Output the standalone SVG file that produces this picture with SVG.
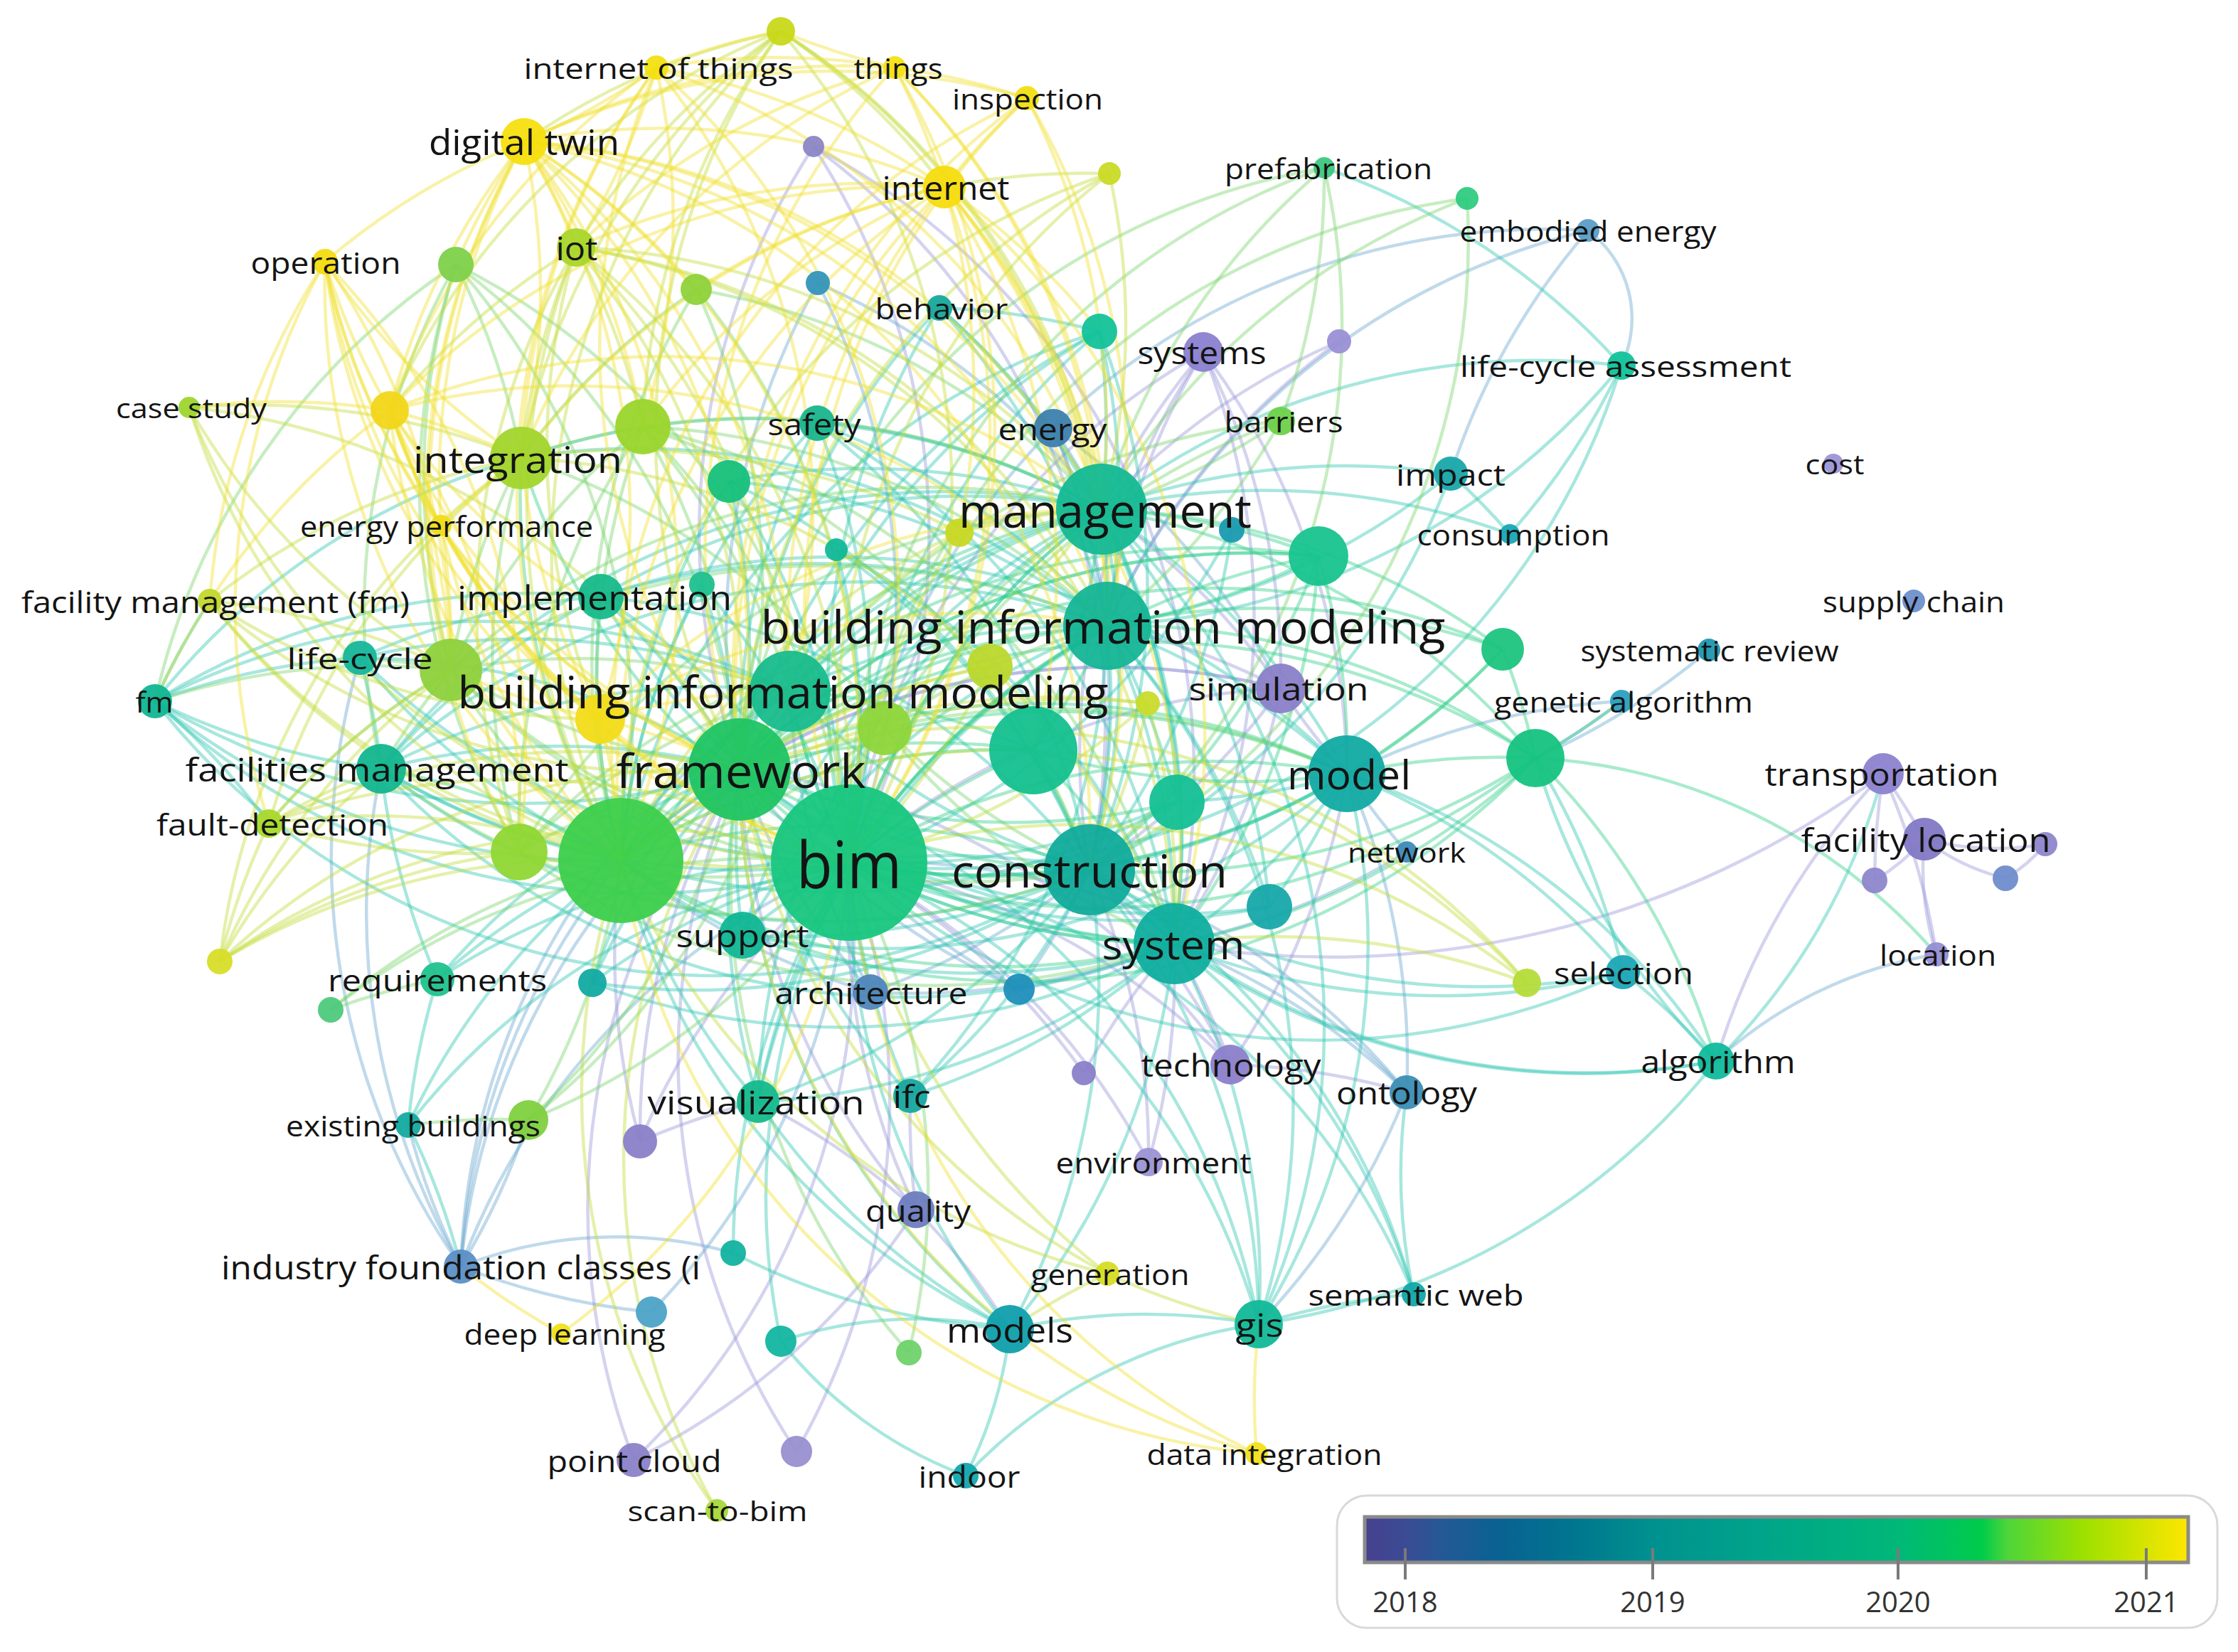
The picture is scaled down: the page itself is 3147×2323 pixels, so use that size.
<svg xmlns="http://www.w3.org/2000/svg" width="3147" height="2323" viewBox="0 0 3147 2323">
<style>
.e path{fill:none;stroke-width:4.5;stroke-opacity:.42}
.ey{stroke:#f0e02e}
.eyg{stroke:#c0dc36}
.eg{stroke:#76d56a}
.egt{stroke:#2fd089}
.et{stroke:#2dc6b0}
.eb{stroke:#6aa8cf}
.ep{stroke:#9896da}
.n circle{fill-opacity:.95}
.n text{font-family:"Open Sans","Noto Sans",sans-serif;fill:#141414;text-anchor:middle;dominant-baseline:central}
.lg{font-family:"Open Sans","Noto Sans",sans-serif;fill:#333;font-size:40px;text-anchor:middle}
</style>
<defs>
<linearGradient id="grad" x1="0" y1="0" x2="1" y2="0">
<stop offset="0" stop-color="#47408f"/>
<stop offset="0.05" stop-color="#3b4b93"/>
<stop offset="0.09" stop-color="#265896"/>
<stop offset="0.16" stop-color="#0a6192"/>
<stop offset="0.25" stop-color="#00758f"/>
<stop offset="0.35" stop-color="#00918f"/>
<stop offset="0.48" stop-color="#00a48a"/>
<stop offset="0.65" stop-color="#00b878"/>
<stop offset="0.75" stop-color="#00cc4a"/>
<stop offset="0.78" stop-color="#4dd53a"/>
<stop offset="0.87" stop-color="#9be000"/>
<stop offset="0.93" stop-color="#c9e300"/>
<stop offset="1" stop-color="#fee600"/>
</linearGradient>
</defs>
<rect width="3147" height="2323" fill="#fff"/>
<g id="connectors" class="e">
<g class="ep">
<path d="M1144 206A1000 1000 0 0 1 1194 1213"/>
<path d="M1144 206A1000 1000 0 0 0 1040 1082"/>
<path d="M1144 206A1000 1000 0 0 1 1532 1223"/>
<path d="M1144 206A1000 1000 0 0 1 1651 1327"/>
<path d="M1692 495A1000 1000 0 0 0 1549 716"/>
<path d="M1692 495A1000 1000 0 0 0 1557 880"/>
<path d="M1692 495A1000 1000 0 0 0 1194 1213"/>
<path d="M1692 495A1000 1000 0 0 0 1532 1223"/>
<path d="M1692 495A1000 1000 0 0 1 1651 1327"/>
<path d="M1692 495A1000 1000 0 0 1 1894 1088"/>
<path d="M1692 495A1000 1000 0 0 1 1801 968"/>
<path d="M1883 480A1000 1000 0 0 0 1549 716"/>
<path d="M1883 480A1000 1000 0 0 0 1557 880"/>
<path d="M1801 968A1000 1000 0 0 0 1194 1213"/>
<path d="M1801 968A1000 1000 0 0 0 1040 1082"/>
<path d="M1801 968A1000 1000 0 0 0 873 1210"/>
<path d="M1801 968A1000 1000 0 0 0 1549 716"/>
<path d="M1801 968A1000 1000 0 0 0 1557 880"/>
<path d="M1801 968A1000 1000 0 0 1 1532 1223"/>
<path d="M1801 968A1000 1000 0 0 1 1651 1327"/>
<path d="M1801 968A1000 1000 0 0 0 1894 1088"/>
<path d="M2648 1088A1000 1000 0 0 1 2706 1180"/>
<path d="M2648 1088A1000 1000 0 0 0 2636 1238"/>
<path d="M2648 1088A1000 1000 0 0 1 2723 1342"/>
<path d="M2648 1088A1000 1000 0 0 0 2413 1492"/>
<path d="M2648 1088A1300 1300 0 0 1 1651 1327"/>
<path d="M2706 1180A400 400 0 0 0 2876 1187"/>
<path d="M2706 1180A300 300 0 0 1 2636 1238"/>
<path d="M2706 1180A400 400 0 0 0 2723 1342"/>
<path d="M2706 1180A300 300 0 0 0 2820 1235"/>
<path d="M2876 1187A200 200 0 0 1 2820 1235"/>
<path d="M1730 1497A1000 1000 0 0 0 1651 1327"/>
<path d="M1730 1497A1000 1000 0 0 0 1532 1223"/>
<path d="M1730 1497A1000 1000 0 0 0 1194 1213"/>
<path d="M1730 1497A1000 1000 0 0 0 1894 1088"/>
<path d="M1730 1497A1000 1000 0 0 1 1978 1536"/>
<path d="M1730 1497A1000 1000 0 0 0 1040 1082"/>
<path d="M1524 1509A1000 1000 0 0 0 1194 1213"/>
<path d="M1524 1509A1000 1000 0 0 1 1651 1327"/>
<path d="M900 1605A1000 1000 0 0 1 873 1210"/>
<path d="M900 1605A1000 1000 0 0 1 1194 1213"/>
<path d="M900 1605A1000 1000 0 0 1 1040 1082"/>
<path d="M900 1605A1000 1000 0 0 1 1066 1549"/>
<path d="M1615 1634A1000 1000 0 0 0 1651 1327"/>
<path d="M1615 1634A1000 1000 0 0 0 1532 1223"/>
<path d="M1615 1634A1000 1000 0 0 0 1194 1213"/>
<path d="M1288 1701A1000 1000 0 0 0 1066 1549"/>
<path d="M1288 1701A1000 1000 0 0 1 1194 1213"/>
<path d="M1288 1701A1000 1000 0 0 1 1040 1082"/>
<path d="M1288 1701A1000 1000 0 0 1 1280 1541"/>
<path d="M1288 1701A1000 1000 0 0 1 1420 1869"/>
<path d="M1120 2041A1000 1000 0 0 0 1194 1213"/>
<path d="M1120 2041A1000 1000 0 0 1 1040 1082"/>
<path d="M891 2053A1000 1000 0 0 0 1194 1213"/>
<path d="M891 2053A1000 1000 0 0 1 1040 1082"/>
<path d="M891 2053A1000 1000 0 0 0 1288 1701"/>
</g>
<g class="eb">
<path d="M2233 324A155 155 0 0 1 2280 514"/>
<path d="M2233 324A1000 1000 0 0 0 2040 666"/>
<path d="M2233 324A1000 1000 0 0 0 1481 602"/>
<path d="M2233 324A1000 1000 0 0 0 1557 880"/>
<path d="M1150 398A1000 1000 0 0 1 1194 1213"/>
<path d="M1150 398A1000 1000 0 0 0 1040 1082"/>
<path d="M1150 398A1000 1000 0 0 1 1549 716"/>
<path d="M1481 602A1000 1000 0 0 1 1549 716"/>
<path d="M1481 602A1000 1000 0 0 1 1557 880"/>
<path d="M1481 602A1000 1000 0 0 0 1194 1213"/>
<path d="M1481 602A1000 1000 0 0 1 1801 968"/>
<path d="M1481 602A1000 1000 0 0 1 1532 1223"/>
<path d="M2280 986A1000 1000 0 0 1 2159 1066"/>
<path d="M2280 986A1000 1000 0 0 0 1894 1088"/>
<path d="M2403 914A1000 1000 0 0 1 2159 1066"/>
<path d="M1978 1198A1000 1000 0 0 1 1894 1088"/>
<path d="M1978 1198A1000 1000 0 0 1 1651 1327"/>
<path d="M1224 1395A1000 1000 0 0 1 1194 1213"/>
<path d="M1224 1395A1000 1000 0 0 1 1040 1082"/>
<path d="M1224 1395A1000 1000 0 0 1 873 1210"/>
<path d="M1224 1395A1000 1000 0 0 0 1532 1223"/>
<path d="M1224 1395A1000 1000 0 0 0 1651 1327"/>
<path d="M1224 1395A1000 1000 0 0 1 1111 972"/>
<path d="M1433 1391A1000 1000 0 0 1 1194 1213"/>
<path d="M1433 1391A1000 1000 0 0 0 1532 1223"/>
<path d="M1433 1391A1000 1000 0 0 0 1651 1327"/>
<path d="M1433 1391A1000 1000 0 0 1 1040 1082"/>
<path d="M1978 1536A1000 1000 0 0 0 1651 1327"/>
<path d="M1978 1536A1000 1000 0 0 0 1532 1223"/>
<path d="M1978 1536A1000 1000 0 0 0 1194 1213"/>
<path d="M1978 1536A1000 1000 0 0 0 1894 1088"/>
<path d="M1978 1536A1000 1000 0 0 1 1770 1862"/>
<path d="M648 1781A1000 1000 0 0 0 743 1575"/>
<path d="M648 1781A1000 1000 0 0 1 574 1582"/>
<path d="M648 1781A600 600 0 0 1 1031 1762"/>
<path d="M648 1781A1000 1000 0 0 0 916 1845"/>
<path d="M648 1781A1000 1000 0 0 1 873 1210"/>
<path d="M648 1781A1000 1000 0 0 1 1040 1082"/>
<path d="M648 1781A1000 1000 0 0 1 1111 972"/>
<path d="M648 1781A1000 1000 0 0 1 1194 1213"/>
<path d="M648 1781A1000 1000 0 0 1 536 1081"/>
<path d="M648 1781A1000 1000 0 0 1 506 925"/>
<path d="M916 1845A1000 1000 0 0 0 1194 1213"/>
<path d="M2723 1342A600 600 0 0 0 2413 1492"/>
</g>
<g class="et">
<path d="M1546 466A1000 1000 0 0 0 1194 1213"/>
<path d="M1546 466A1000 1000 0 0 0 1040 1082"/>
<path d="M1546 466A1000 1000 0 0 0 873 1210"/>
<path d="M1546 466A1000 1000 0 0 1 1549 716"/>
<path d="M1546 466A1000 1000 0 0 1 1557 880"/>
<path d="M1546 466A1000 1000 0 0 1 1532 1223"/>
<path d="M1546 466A1000 1000 0 0 0 1111 972"/>
<path d="M1149 595A1000 1000 0 0 1 1194 1213"/>
<path d="M1149 595A1000 1000 0 0 0 1040 1082"/>
<path d="M1149 595A1000 1000 0 0 0 873 1210"/>
<path d="M1149 595A1000 1000 0 0 1 1549 716"/>
<path d="M1149 595A1000 1000 0 0 1 1557 880"/>
<path d="M1149 595A1000 1000 0 0 1 1532 1223"/>
<path d="M1149 595A1000 1000 0 0 1 1651 1327"/>
<path d="M1321 433A1000 1000 0 0 0 1194 1213"/>
<path d="M1321 433A1000 1000 0 0 0 1040 1082"/>
<path d="M1321 433A1000 1000 0 0 1 1549 716"/>
<path d="M1321 433A1000 1000 0 0 1 1557 880"/>
<path d="M1321 433A1000 1000 0 0 1 1651 1327"/>
<path d="M1321 433A1000 1000 0 0 1 1546 466"/>
<path d="M1025 677A1000 1000 0 0 1 1194 1213"/>
<path d="M1025 677A1000 1000 0 0 1 1040 1082"/>
<path d="M1025 677A1000 1000 0 0 0 873 1210"/>
<path d="M1025 677A1000 1000 0 0 1 1549 716"/>
<path d="M1025 677A1000 1000 0 0 1 1557 880"/>
<path d="M1025 677A1000 1000 0 0 1 1532 1223"/>
<path d="M1176 773A1000 1000 0 0 1 1194 1213"/>
<path d="M1176 773A1000 1000 0 0 1 1532 1223"/>
<path d="M1176 773A1000 1000 0 0 1 1651 1327"/>
<path d="M987 822A1000 1000 0 0 1 1194 1213"/>
<path d="M987 822A1000 1000 0 0 1 1040 1082"/>
<path d="M987 822A1000 1000 0 0 0 873 1210"/>
<path d="M845 839A1000 1000 0 0 1 1194 1213"/>
<path d="M845 839A1000 1000 0 0 1 1040 1082"/>
<path d="M845 839A1000 1000 0 0 0 873 1210"/>
<path d="M845 839A1000 1000 0 0 1 1549 716"/>
<path d="M845 839A1000 1000 0 0 1 1557 880"/>
<path d="M845 839A1000 1000 0 0 1 1532 1223"/>
<path d="M845 839A1000 1000 0 0 0 1651 1327"/>
<path d="M845 839A1000 1000 0 0 0 218 986"/>
<path d="M845 839A1000 1000 0 0 0 506 925"/>
<path d="M845 839A1000 1000 0 0 0 536 1081"/>
<path d="M845 839A1000 1000 0 0 1 1894 1088"/>
<path d="M506 925A1000 1000 0 0 0 218 986"/>
<path d="M506 925A1000 1000 0 0 1 536 1081"/>
<path d="M506 925A1000 1000 0 0 0 873 1210"/>
<path d="M506 925A1000 1000 0 0 0 1194 1213"/>
<path d="M506 925A1000 1000 0 0 1 1040 1082"/>
<path d="M506 925A1000 1000 0 0 1 1111 972"/>
<path d="M218 986A1000 1000 0 0 0 536 1081"/>
<path d="M218 986A1000 1000 0 0 1 295 845"/>
<path d="M218 986A1000 1000 0 0 0 873 1210"/>
<path d="M218 986A1000 1000 0 0 0 1194 1213"/>
<path d="M218 986A1000 1000 0 0 0 1040 1082"/>
<path d="M218 986A1000 1000 0 0 1 1111 972"/>
<path d="M218 986A1000 1000 0 0 1 378 1158"/>
<path d="M218 986A1000 1000 0 0 0 1532 1223"/>
<path d="M218 986A1000 1000 0 0 1 733 644"/>
<path d="M536 1081A1000 1000 0 0 0 1194 1213"/>
<path d="M536 1081A1000 1000 0 0 1 1040 1082"/>
<path d="M536 1081A1000 1000 0 0 0 873 1210"/>
<path d="M536 1081A1000 1000 0 0 1 1549 716"/>
<path d="M536 1081A1000 1000 0 0 1 1557 880"/>
<path d="M536 1081A1000 1000 0 0 0 1532 1223"/>
<path d="M536 1081A1000 1000 0 0 0 1651 1327"/>
<path d="M536 1081A1000 1000 0 0 1 1111 972"/>
<path d="M615 1377A1000 1000 0 0 1 873 1210"/>
<path d="M615 1377A1000 1000 0 0 1 1194 1213"/>
<path d="M615 1377A1000 1000 0 0 1 1040 1082"/>
<path d="M615 1377A1000 1000 0 0 1 536 1081"/>
<path d="M615 1377A1000 1000 0 0 0 574 1582"/>
<path d="M833 1382A1000 1000 0 0 1 1194 1213"/>
<path d="M833 1382A1000 1000 0 0 1 1040 1082"/>
<path d="M833 1382A1000 1000 0 0 0 1532 1223"/>
<path d="M833 1382A1000 1000 0 0 0 1651 1327"/>
<path d="M833 1382A1000 1000 0 0 1 1549 716"/>
<path d="M1044 1315A1000 1000 0 0 1 1194 1213"/>
<path d="M1044 1315A1000 1000 0 0 1 1040 1082"/>
<path d="M1044 1315A1000 1000 0 0 1 873 1210"/>
<path d="M1044 1315A1000 1000 0 0 0 1532 1223"/>
<path d="M1044 1315A1000 1000 0 0 0 1651 1327"/>
<path d="M1044 1315A1000 1000 0 0 1 1549 716"/>
<path d="M1044 1315A1000 1000 0 0 1 1557 880"/>
<path d="M1044 1315A1000 1000 0 0 0 1894 1088"/>
<path d="M1066 1549A1000 1000 0 0 1 1194 1213"/>
<path d="M1066 1549A1000 1000 0 0 1 1040 1082"/>
<path d="M1066 1549A1000 1000 0 0 1 873 1210"/>
<path d="M1066 1549A1000 1000 0 0 0 1532 1223"/>
<path d="M1066 1549A1000 1000 0 0 0 1651 1327"/>
<path d="M1066 1549A1000 1000 0 0 1 1549 716"/>
<path d="M1066 1549A1000 1000 0 0 1 1557 880"/>
<path d="M1280 1541A1000 1000 0 0 1 1194 1213"/>
<path d="M1280 1541A1000 1000 0 0 1 1040 1082"/>
<path d="M1280 1541A1000 1000 0 0 0 1532 1223"/>
<path d="M1280 1541A1000 1000 0 0 0 1651 1327"/>
<path d="M1280 1541A1000 1000 0 0 0 1557 880"/>
<path d="M574 1582A1000 1000 0 0 1 648 1781"/>
<path d="M574 1582A1000 1000 0 0 1 873 1210"/>
<path d="M574 1582A1000 1000 0 0 1 1194 1213"/>
<path d="M1031 1762A1000 1000 0 0 1 1194 1213"/>
<path d="M1031 1762A1000 1000 0 0 0 1420 1869"/>
<path d="M1420 1869A1000 1000 0 0 1 1194 1213"/>
<path d="M1420 1869A1000 1000 0 0 1 1040 1082"/>
<path d="M1420 1869A1000 1000 0 0 1 873 1210"/>
<path d="M1420 1869A1000 1000 0 0 0 1532 1223"/>
<path d="M1420 1869A1000 1000 0 0 0 1651 1327"/>
<path d="M1420 1869A600 600 0 0 1 1358 2075"/>
<path d="M1420 1869A600 600 0 0 0 1098 1886"/>
<path d="M1420 1869A900 900 0 0 1 1770 1862"/>
<path d="M1420 1869A1000 1000 0 0 1 1066 1549"/>
<path d="M1098 1886A600 600 0 0 0 1358 2075"/>
<path d="M1098 1886A1000 1000 0 0 1 1194 1213"/>
<path d="M1358 2075A700 700 0 0 1 1770 1862"/>
<path d="M1770 1862A1000 1000 0 0 0 1194 1213"/>
<path d="M1770 1862A1000 1000 0 0 0 1040 1082"/>
<path d="M1770 1862A1000 1000 0 0 0 1532 1223"/>
<path d="M1770 1862A1000 1000 0 0 0 1651 1327"/>
<path d="M1770 1862A1000 1000 0 0 0 1894 1088"/>
<path d="M1770 1862A1000 1000 0 0 1 1988 1820"/>
<path d="M1770 1862A1000 1000 0 0 0 1557 880"/>
<path d="M1770 1862A1000 1000 0 0 0 1549 716"/>
<path d="M1988 1820A800 800 0 0 1 1978 1536"/>
<path d="M1988 1820A1000 1000 0 0 0 1651 1327"/>
<path d="M1988 1820A1000 1000 0 0 0 1532 1223"/>
<path d="M1988 1820A1000 1000 0 0 0 1194 1213"/>
<path d="M2413 1492A1000 1000 0 0 0 2282 1367"/>
<path d="M2413 1492A1000 1000 0 0 0 1894 1088"/>
<path d="M2413 1492A1000 1000 0 0 1 2159 1066"/>
<path d="M2413 1492A900 900 0 0 0 2648 1088"/>
<path d="M2413 1492A1000 1000 0 0 1 1651 1327"/>
<path d="M2413 1492A1000 1000 0 0 1 1532 1223"/>
<path d="M2413 1492A1000 1000 0 0 1 1770 1862"/>
<path d="M2282 1367A1000 1000 0 0 0 1894 1088"/>
<path d="M2282 1367A1000 1000 0 0 1 1651 1327"/>
<path d="M2282 1367A1000 1000 0 0 0 2159 1066"/>
<path d="M2282 1367A1000 1000 0 0 1 1532 1223"/>
<path d="M2282 1367A1000 1000 0 0 1 1194 1213"/>
<path d="M1785 1275A1000 1000 0 0 1 1194 1213"/>
<path d="M1785 1275A1000 1000 0 0 1 1040 1082"/>
<path d="M1785 1275A1000 1000 0 0 0 1549 716"/>
<path d="M1785 1275A1000 1000 0 0 0 1557 880"/>
<path d="M1785 1275A1000 1000 0 0 0 1894 1088"/>
<path d="M1655 1128A1000 1000 0 0 1 1194 1213"/>
<path d="M1655 1128A1000 1000 0 0 1 873 1210"/>
<path d="M1655 1128A1000 1000 0 0 0 1549 716"/>
<path d="M1655 1128A1000 1000 0 0 0 1557 880"/>
<path d="M1655 1128A1000 1000 0 0 0 1894 1088"/>
<path d="M2280 514A1000 1000 0 0 1 2123 751"/>
<path d="M2280 514A1000 1000 0 0 0 1549 716"/>
<path d="M2280 514A1000 1000 0 0 1 1557 880"/>
<path d="M2280 514A1000 1000 0 0 1 1194 1213"/>
<path d="M2280 514A1000 1000 0 0 0 1862 236"/>
<path d="M2040 666A1000 1000 0 0 0 1549 716"/>
<path d="M2040 666A1000 1000 0 0 1 1557 880"/>
<path d="M2040 666A1000 1000 0 0 1 1532 1223"/>
<path d="M2040 666A1000 1000 0 0 1 2123 751"/>
<path d="M2123 751A1000 1000 0 0 0 1549 716"/>
<path d="M1732 745A1000 1000 0 0 1 1194 1213"/>
<path d="M1732 745A1000 1000 0 0 1 1532 1223"/>
<path d="M1549 716A1000 1000 0 0 1 1557 880"/>
<path d="M1549 716A1000 1000 0 0 0 1194 1213"/>
<path d="M1549 716A1000 1000 0 0 1 1532 1223"/>
<path d="M1549 716A1000 1000 0 0 1 1651 1327"/>
<path d="M1549 716A1000 1000 0 0 1 1894 1088"/>
<path d="M1557 880A1000 1000 0 0 0 1194 1213"/>
<path d="M1557 880A1000 1000 0 0 1 1532 1223"/>
<path d="M1557 880A1000 1000 0 0 1 1651 1327"/>
<path d="M1557 880A1000 1000 0 0 1 1894 1088"/>
<path d="M1111 972A1000 1000 0 0 0 1194 1213"/>
<path d="M1111 972A1000 1000 0 0 1 1549 716"/>
<path d="M1111 972A1000 1000 0 0 1 1557 880"/>
<path d="M1111 972A1000 1000 0 0 0 1532 1223"/>
<path d="M1532 1223A1000 1000 0 0 0 1194 1213"/>
<path d="M1532 1223A1000 1000 0 0 1 1651 1327"/>
<path d="M1532 1223A1000 1000 0 0 0 1894 1088"/>
<path d="M1651 1327A1000 1000 0 0 1 1194 1213"/>
<path d="M1651 1327A1000 1000 0 0 0 1894 1088"/>
<path d="M1894 1088A1000 1000 0 0 1 1194 1213"/>
<path d="M733 644A1000 1000 0 0 1 1549 716"/>
<path d="M733 644A1000 1000 0 0 1 1557 880"/>
</g>
<g class="egt">
<path d="M873 1210A1000 1000 0 0 1 1549 716"/>
<path d="M873 1210A1000 1000 0 0 1 1557 880"/>
<path d="M873 1210A1000 1000 0 0 1 1532 1223"/>
<path d="M873 1210A1000 1000 0 0 0 1651 1327"/>
<path d="M873 1210A1000 1000 0 0 1 1894 1088"/>
<path d="M873 1210A1000 1000 0 0 1 1453 1055"/>
<path d="M873 1210A1000 1000 0 0 1 733 644"/>
<path d="M873 1210A1000 1000 0 0 0 536 1081"/>
<path d="M873 1210A1000 1000 0 0 1 1111 972"/>
<path d="M1040 1082A1000 1000 0 0 1 1549 716"/>
<path d="M1040 1082A1000 1000 0 0 1 1557 880"/>
<path d="M1040 1082A1000 1000 0 0 0 1532 1223"/>
<path d="M1040 1082A1000 1000 0 0 0 1651 1327"/>
<path d="M1040 1082A1000 1000 0 0 1 1894 1088"/>
<path d="M1040 1082A1000 1000 0 0 1 1453 1055"/>
<path d="M1040 1082A1000 1000 0 0 0 1655 1128"/>
<path d="M1040 1082A1000 1000 0 0 1 1854 782"/>
<path d="M1040 1082A1000 1000 0 0 0 1194 1213"/>
<path d="M1040 1082A1000 1000 0 0 0 873 1210"/>
<path d="M1194 1213A1000 1000 0 0 1 1549 716"/>
<path d="M1194 1213A1000 1000 0 0 1 1557 880"/>
<path d="M1194 1213A1000 1000 0 0 0 1532 1223"/>
<path d="M1194 1213A1000 1000 0 0 0 1651 1327"/>
<path d="M1194 1213A1000 1000 0 0 1 1894 1088"/>
<path d="M1194 1213A1000 1000 0 0 1 1453 1055"/>
<path d="M1194 1213A1000 1000 0 0 1 733 644"/>
<path d="M1194 1213A1000 1000 0 0 1 1111 972"/>
<path d="M1854 782A1000 1000 0 0 0 1194 1213"/>
<path d="M1854 782A1000 1000 0 0 0 1040 1082"/>
<path d="M1854 782A1000 1000 0 0 0 873 1210"/>
<path d="M1854 782A1000 1000 0 0 0 1549 716"/>
<path d="M1854 782A1000 1000 0 0 1 1557 880"/>
<path d="M1854 782A1000 1000 0 0 1 1532 1223"/>
<path d="M1854 782A1000 1000 0 0 1 1651 1327"/>
<path d="M1854 782A1000 1000 0 0 1 1894 1088"/>
<path d="M1453 1055A1000 1000 0 0 0 1549 716"/>
<path d="M1453 1055A1000 1000 0 0 0 1557 880"/>
<path d="M1453 1055A1000 1000 0 0 0 1111 972"/>
<path d="M1453 1055A1000 1000 0 0 1 1532 1223"/>
<path d="M1453 1055A1000 1000 0 0 1 1651 1327"/>
<path d="M1453 1055A1000 1000 0 0 0 1894 1088"/>
<path d="M2159 1066A1000 1000 0 0 0 1894 1088"/>
<path d="M2159 1066A1000 1000 0 0 1 1651 1327"/>
<path d="M2159 1066A1000 1000 0 0 1 1532 1223"/>
<path d="M2159 1066A1000 1000 0 0 1 1194 1213"/>
<path d="M2159 1066A1000 1000 0 0 0 1549 716"/>
<path d="M2159 1066A1000 1000 0 0 0 1557 880"/>
<path d="M2159 1066A1000 1000 0 0 0 2280 986"/>
<path d="M2159 1066A1000 1000 0 0 0 2113 913"/>
<path d="M2159 1066A1000 1000 0 0 0 1040 1082"/>
<path d="M2159 1066A1000 1000 0 0 1 873 1210"/>
<path d="M2159 1066A1000 1000 0 0 1 2413 1492"/>
<path d="M2159 1066A800 800 0 0 1 2723 1342"/>
<path d="M2113 913A1000 1000 0 0 1 1894 1088"/>
<path d="M2113 913A1000 1000 0 0 0 1557 880"/>
<path d="M2113 913A1000 1000 0 0 1 1194 1213"/>
<path d="M2113 913A1000 1000 0 0 0 1549 716"/>
<path d="M2113 913A1000 1000 0 0 0 1040 1082"/>
</g>
<g class="eg">
<path d="M641 372A1000 1000 0 0 1 733 644"/>
<path d="M641 372A1000 1000 0 0 1 1194 1213"/>
<path d="M641 372A1000 1000 0 0 1 1040 1082"/>
<path d="M641 372A1000 1000 0 0 1 873 1210"/>
<path d="M641 372A1000 1000 0 0 0 634 942"/>
<path d="M641 372A1000 1000 0 0 0 730 1198"/>
<path d="M641 372A1000 1000 0 0 0 536 1081"/>
<path d="M641 372A1000 1000 0 0 0 218 986"/>
<path d="M979 407A1000 1000 0 0 0 733 644"/>
<path d="M979 407A1000 1000 0 0 1 1194 1213"/>
<path d="M979 407A1000 1000 0 0 1 1040 1082"/>
<path d="M979 407A1000 1000 0 0 0 873 1210"/>
<path d="M979 407A1000 1000 0 0 1 1549 716"/>
<path d="M904 600A1000 1000 0 0 1 1194 1213"/>
<path d="M904 600A1000 1000 0 0 1 1040 1082"/>
<path d="M904 600A1000 1000 0 0 0 873 1210"/>
<path d="M904 600A1000 1000 0 0 1 1549 716"/>
<path d="M904 600A1000 1000 0 0 1 1557 880"/>
<path d="M904 600A1000 1000 0 0 1 1111 972"/>
<path d="M904 600A1000 1000 0 0 1 1532 1223"/>
<path d="M904 600A1000 1000 0 0 1 1651 1327"/>
<path d="M904 600A1000 1000 0 0 0 733 644"/>
<path d="M904 600A1000 1000 0 0 0 730 1198"/>
<path d="M904 600A1000 1000 0 0 0 634 942"/>
<path d="M634 942A1000 1000 0 0 0 1194 1213"/>
<path d="M634 942A1000 1000 0 0 0 1040 1082"/>
<path d="M634 942A1000 1000 0 0 0 873 1210"/>
<path d="M634 942A1000 1000 0 0 1 1549 716"/>
<path d="M634 942A1000 1000 0 0 1 1557 880"/>
<path d="M634 942A1000 1000 0 0 1 1111 972"/>
<path d="M634 942A1000 1000 0 0 0 1532 1223"/>
<path d="M634 942A1000 1000 0 0 0 536 1081"/>
<path d="M634 942A1000 1000 0 0 0 218 986"/>
<path d="M634 942A1000 1000 0 0 0 506 925"/>
<path d="M634 942A1000 1000 0 0 0 378 1158"/>
<path d="M634 942A1000 1000 0 0 1 733 644"/>
<path d="M730 1198A1000 1000 0 0 0 1194 1213"/>
<path d="M730 1198A1000 1000 0 0 1 1040 1082"/>
<path d="M730 1198A1000 1000 0 0 1 1111 972"/>
<path d="M730 1198A1000 1000 0 0 1 1549 716"/>
<path d="M730 1198A1000 1000 0 0 1 1557 880"/>
<path d="M730 1198A1000 1000 0 0 0 1532 1223"/>
<path d="M730 1198A1000 1000 0 0 0 1651 1327"/>
<path d="M730 1198A1000 1000 0 0 1 536 1081"/>
<path d="M730 1198A1000 1000 0 0 1 733 644"/>
<path d="M1244 1024A1000 1000 0 0 1 873 1210"/>
<path d="M1244 1024A1000 1000 0 0 1 1549 716"/>
<path d="M1244 1024A1000 1000 0 0 1 1557 880"/>
<path d="M1244 1024A1000 1000 0 0 0 1532 1223"/>
<path d="M1244 1024A1000 1000 0 0 0 1651 1327"/>
<path d="M1244 1024A1000 1000 0 0 1 1894 1088"/>
<path d="M1244 1024A1000 1000 0 0 0 733 644"/>
<path d="M743 1575A1000 1000 0 0 0 873 1210"/>
<path d="M743 1575A1000 1000 0 0 0 1194 1213"/>
<path d="M743 1575A1000 1000 0 0 0 1040 1082"/>
<path d="M743 1575A1000 1000 0 0 0 574 1582"/>
<path d="M743 1575A1000 1000 0 0 0 1111 972"/>
<path d="M465 1420A1000 1000 0 0 1 615 1377"/>
<path d="M465 1420A1000 1000 0 0 1 873 1210"/>
<path d="M465 1420A1000 1000 0 0 1 1194 1213"/>
<path d="M1278 1902A1000 1000 0 0 0 1194 1213"/>
<path d="M1278 1902A1000 1000 0 0 1 1040 1082"/>
<path d="M1801 592A1000 1000 0 0 1 1549 716"/>
<path d="M1801 592A1000 1000 0 0 0 1194 1213"/>
<path d="M1801 592A1000 1000 0 0 0 1040 1082"/>
<path d="M1801 592A1000 1000 0 0 0 1862 236"/>
<path d="M1801 592A1000 1000 0 0 1 1557 880"/>
<path d="M1862 236A1000 1000 0 0 0 1549 716"/>
<path d="M1862 236A1000 1000 0 0 0 1194 1213"/>
<path d="M1862 236A1000 1000 0 0 0 1040 1082"/>
<path d="M1862 236A1000 1000 0 0 1 1532 1223"/>
<path d="M2063 279A1000 1000 0 0 0 1549 716"/>
<path d="M2063 279A1000 1000 0 0 0 1194 1213"/>
<path d="M2063 279A1000 1000 0 0 1 1532 1223"/>
</g>
<g class="eyg">
<path d="M1098 44A1000 1000 0 0 0 737 199"/>
<path d="M1098 44A1000 1000 0 0 1 1328 263"/>
<path d="M1098 44A1000 1000 0 0 0 810 348"/>
<path d="M1098 44A1000 1000 0 0 0 733 644"/>
<path d="M1098 44A1000 1000 0 0 1 1194 1213"/>
<path d="M1098 44A1000 1000 0 0 0 1040 1082"/>
<path d="M1098 44A1000 1000 0 0 0 873 1210"/>
<path d="M1098 44A1000 1000 0 0 0 904 600"/>
<path d="M1098 44A1000 1000 0 0 1 1557 880"/>
<path d="M1098 44A1000 1000 0 0 1 1549 716"/>
<path d="M1098 44A1000 1000 0 0 0 548 577"/>
<path d="M810 348A1000 1000 0 0 0 733 644"/>
<path d="M810 348A1000 1000 0 0 1 1194 1213"/>
<path d="M810 348A1000 1000 0 0 1 1040 1082"/>
<path d="M810 348A1000 1000 0 0 0 873 1210"/>
<path d="M810 348A1000 1000 0 0 1 1549 716"/>
<path d="M810 348A1000 1000 0 0 1 1557 880"/>
<path d="M810 348A1000 1000 0 0 1 904 600"/>
<path d="M810 348A1000 1000 0 0 0 548 577"/>
<path d="M810 348A1000 1000 0 0 1 1111 972"/>
<path d="M810 348A1000 1000 0 0 0 730 1198"/>
<path d="M810 348A1000 1000 0 0 0 844 1011"/>
<path d="M810 348A1000 1000 0 0 1 1651 1327"/>
<path d="M1560 244A1000 1000 0 0 0 1194 1213"/>
<path d="M1560 244A1000 1000 0 0 0 1040 1082"/>
<path d="M1560 244A1000 1000 0 0 0 873 1210"/>
<path d="M1560 244A1000 1000 0 0 1 1549 716"/>
<path d="M1560 244A1000 1000 0 0 0 1328 263"/>
<path d="M295 845A1000 1000 0 0 1 733 644"/>
<path d="M295 845A1000 1000 0 0 0 873 1210"/>
<path d="M295 845A1000 1000 0 0 0 1194 1213"/>
<path d="M295 845A1000 1000 0 0 0 1040 1082"/>
<path d="M295 845A1000 1000 0 0 0 844 1011"/>
<path d="M295 845A1000 1000 0 0 1 634 942"/>
<path d="M295 845A1000 1000 0 0 0 218 986"/>
<path d="M266 573A1000 1000 0 0 1 733 644"/>
<path d="M266 573A1000 1000 0 0 0 873 1210"/>
<path d="M266 573A1000 1000 0 0 0 1194 1213"/>
<path d="M266 573A1000 1000 0 0 1 1040 1082"/>
<path d="M266 573A1000 1000 0 0 0 634 942"/>
<path d="M309 1352A1000 1000 0 0 1 873 1210"/>
<path d="M309 1352A1000 1000 0 0 1 1194 1213"/>
<path d="M309 1352A1000 1000 0 0 1 1040 1082"/>
<path d="M309 1352A1000 1000 0 0 1 378 1158"/>
<path d="M309 1352A1000 1000 0 0 1 730 1198"/>
<path d="M309 1352A1000 1000 0 0 1 634 942"/>
<path d="M309 1352A1000 1000 0 0 1 536 1081"/>
<path d="M309 1352A1000 1000 0 0 1 733 644"/>
<path d="M378 1158A1000 1000 0 0 1 873 1210"/>
<path d="M378 1158A1000 1000 0 0 1 1194 1213"/>
<path d="M378 1158A1000 1000 0 0 1 1040 1082"/>
<path d="M378 1158A1000 1000 0 0 1 733 644"/>
<path d="M378 1158A1000 1000 0 0 1 634 942"/>
<path d="M378 1158A1000 1000 0 0 1 536 1081"/>
<path d="M378 1158A1000 1000 0 0 0 730 1198"/>
<path d="M1557 1791A1000 1000 0 0 1 1194 1213"/>
<path d="M1557 1791A1000 1000 0 0 1 1040 1082"/>
<path d="M1557 1791A1000 1000 0 0 1 873 1210"/>
<path d="M1557 1791A1000 1000 0 0 0 1770 1862"/>
<path d="M1557 1791A1000 1000 0 0 0 1420 1869"/>
<path d="M1349 749A1000 1000 0 0 0 1194 1213"/>
<path d="M1349 749A1000 1000 0 0 0 1040 1082"/>
<path d="M1349 749A1000 1000 0 0 0 873 1210"/>
<path d="M1349 749A1000 1000 0 0 1 1549 716"/>
<path d="M1349 749A1000 1000 0 0 0 733 644"/>
<path d="M1392 937A1000 1000 0 0 1 1194 1213"/>
<path d="M1392 937A1000 1000 0 0 0 1040 1082"/>
<path d="M1392 937A1000 1000 0 0 0 873 1210"/>
<path d="M1392 937A1000 1000 0 0 1 1549 716"/>
<path d="M1392 937A1000 1000 0 0 0 733 644"/>
<path d="M1392 937A1000 1000 0 0 1 1651 1327"/>
<path d="M1614 989A1000 1000 0 0 1 1194 1213"/>
<path d="M1614 989A1000 1000 0 0 0 1040 1082"/>
<path d="M1614 989A1000 1000 0 0 1 1651 1327"/>
<path d="M1614 989A1000 1000 0 0 1 1532 1223"/>
<path d="M1614 989A1000 1000 0 0 0 873 1210"/>
<path d="M2147 1382A1000 1000 0 0 0 1194 1213"/>
<path d="M2147 1382A1000 1000 0 0 0 1040 1082"/>
<path d="M2147 1382A1000 1000 0 0 0 1651 1327"/>
<path d="M2147 1382A1000 1000 0 0 0 873 1210"/>
<path d="M1008 2124A1000 1000 0 0 1 1040 1082"/>
<path d="M1008 2124A1000 1000 0 0 1 873 1210"/>
</g>
<g class="ey">
<path d="M923 95A1000 1000 0 0 1 737 199"/>
<path d="M923 95A1000 1000 0 0 1 1328 263"/>
<path d="M923 95A1000 1000 0 0 1 1258 95"/>
<path d="M923 95A1000 1000 0 0 1 1098 44"/>
<path d="M923 95A1000 1000 0 0 1 810 348"/>
<path d="M923 95A1000 1000 0 0 0 733 644"/>
<path d="M923 95A1000 1000 0 0 1 1194 1213"/>
<path d="M923 95A1000 1000 0 0 0 1040 1082"/>
<path d="M923 95A1000 1000 0 0 0 873 1210"/>
<path d="M923 95A1000 1000 0 0 1 1549 716"/>
<path d="M923 95A1000 1000 0 0 1 904 600"/>
<path d="M923 95A1000 1000 0 0 0 548 577"/>
<path d="M923 95A1000 1000 0 0 1 1111 972"/>
<path d="M1258 95A1000 1000 0 0 1 1098 44"/>
<path d="M1258 95A1000 1000 0 0 1 1328 263"/>
<path d="M1258 95A1000 1000 0 0 0 737 199"/>
<path d="M1258 95A1000 1000 0 0 0 810 348"/>
<path d="M1258 95A1000 1000 0 0 1 1194 1213"/>
<path d="M1258 95A1000 1000 0 0 0 1040 1082"/>
<path d="M1258 95A1000 1000 0 0 1 1549 716"/>
<path d="M1258 95A1000 1000 0 0 0 733 644"/>
<path d="M1258 95A1000 1000 0 0 1 1444 138"/>
<path d="M1258 95A1000 1000 0 0 1 1557 880"/>
<path d="M1444 138A1000 1000 0 0 0 1328 263"/>
<path d="M1444 138A1000 1000 0 0 0 1194 1213"/>
<path d="M1444 138A1000 1000 0 0 0 1040 1082"/>
<path d="M1444 138A1000 1000 0 0 1 1549 716"/>
<path d="M1444 138A1000 1000 0 0 1 1557 880"/>
<path d="M1444 138A1000 1000 0 0 0 737 199"/>
<path d="M1444 138A1000 1000 0 0 0 873 1210"/>
<path d="M737 199A1000 1000 0 0 1 1328 263"/>
<path d="M737 199A1000 1000 0 0 1 810 348"/>
<path d="M737 199A1000 1000 0 0 0 457 368"/>
<path d="M737 199A1000 1000 0 0 1 733 644"/>
<path d="M737 199A1000 1000 0 0 1 1194 1213"/>
<path d="M737 199A1000 1000 0 0 1 1040 1082"/>
<path d="M737 199A1000 1000 0 0 1 873 1210"/>
<path d="M737 199A1000 1000 0 0 1 1549 716"/>
<path d="M737 199A1000 1000 0 0 1 1557 880"/>
<path d="M737 199A1000 1000 0 0 1 1111 972"/>
<path d="M737 199A1000 1000 0 0 0 548 577"/>
<path d="M737 199A1000 1000 0 0 1 904 600"/>
<path d="M737 199A1000 1000 0 0 0 620 739"/>
<path d="M737 199A1000 1000 0 0 1 844 1011"/>
<path d="M737 199A1000 1000 0 0 0 730 1198"/>
<path d="M737 199A1000 1000 0 0 0 634 942"/>
<path d="M737 199A1000 1000 0 0 1 979 407"/>
<path d="M737 199A1000 1000 0 0 0 641 372"/>
<path d="M737 199A1000 1000 0 0 1 1532 1223"/>
<path d="M737 199A1000 1000 0 0 1 1651 1327"/>
<path d="M1328 263A1000 1000 0 0 0 810 348"/>
<path d="M1328 263A1000 1000 0 0 0 733 644"/>
<path d="M1328 263A1000 1000 0 0 1 1194 1213"/>
<path d="M1328 263A1000 1000 0 0 0 1040 1082"/>
<path d="M1328 263A1000 1000 0 0 0 873 1210"/>
<path d="M1328 263A1000 1000 0 0 1 1549 716"/>
<path d="M1328 263A1000 1000 0 0 1 1557 880"/>
<path d="M1328 263A1000 1000 0 0 0 1111 972"/>
<path d="M1328 263A1000 1000 0 0 0 904 600"/>
<path d="M1328 263A1000 1000 0 0 0 979 407"/>
<path d="M1328 263A1000 1000 0 0 0 548 577"/>
<path d="M1328 263A1000 1000 0 0 1 1532 1223"/>
<path d="M1328 263A1000 1000 0 0 1 1651 1327"/>
<path d="M1328 263A1000 1000 0 0 1 1453 1055"/>
<path d="M1328 263A1000 1000 0 0 1 1349 749"/>
<path d="M1328 263A1000 1000 0 0 1 1546 466"/>
<path d="M457 368A1000 1000 0 0 0 733 644"/>
<path d="M457 368A1000 1000 0 0 0 548 577"/>
<path d="M457 368A1000 1000 0 0 0 1194 1213"/>
<path d="M457 368A1000 1000 0 0 0 873 1210"/>
<path d="M457 368A1000 1000 0 0 0 1040 1082"/>
<path d="M457 368A1000 1000 0 0 0 295 845"/>
<path d="M457 368A1000 1000 0 0 0 620 739"/>
<path d="M457 368A1000 1000 0 0 1 634 942"/>
<path d="M457 368A1000 1000 0 0 0 844 1011"/>
<path d="M457 368A1000 1000 0 0 1 730 1198"/>
<path d="M457 368A1000 1000 0 0 0 378 1158"/>
<path d="M548 577A1000 1000 0 0 1 733 644"/>
<path d="M548 577A1000 1000 0 0 0 1194 1213"/>
<path d="M548 577A1000 1000 0 0 0 1040 1082"/>
<path d="M548 577A1000 1000 0 0 0 873 1210"/>
<path d="M548 577A1000 1000 0 0 0 1111 972"/>
<path d="M548 577A1000 1000 0 0 0 844 1011"/>
<path d="M548 577A1000 1000 0 0 1 634 942"/>
<path d="M548 577A1000 1000 0 0 0 295 845"/>
<path d="M548 577A1000 1000 0 0 1 1549 716"/>
<path d="M548 577A1000 1000 0 0 1 1557 880"/>
<path d="M548 577A1000 1000 0 0 1 730 1198"/>
<path d="M548 577A1000 1000 0 0 0 266 573"/>
<path d="M620 739A1000 1000 0 0 1 733 644"/>
<path d="M620 739A1000 1000 0 0 0 873 1210"/>
<path d="M620 739A1000 1000 0 0 0 1194 1213"/>
<path d="M620 739A1000 1000 0 0 0 1040 1082"/>
<path d="M620 739A1000 1000 0 0 0 844 1011"/>
<path d="M620 739A1000 1000 0 0 1 634 942"/>
<path d="M620 739A1000 1000 0 0 1 548 577"/>
<path d="M844 1011A1000 1000 0 0 0 1194 1213"/>
<path d="M844 1011A1000 1000 0 0 1 1040 1082"/>
<path d="M844 1011A1000 1000 0 0 1 873 1210"/>
<path d="M844 1011A1000 1000 0 0 1 733 644"/>
<path d="M844 1011A1000 1000 0 0 1 634 942"/>
<path d="M844 1011A1000 1000 0 0 1 1111 972"/>
<path d="M844 1011A1000 1000 0 0 1 1549 716"/>
<path d="M844 1011A1000 1000 0 0 1 1557 880"/>
<path d="M789 1875A1000 1000 0 0 1 648 1781"/>
<path d="M789 1875A1000 1000 0 0 0 1194 1213"/>
<path d="M1767 2044A900 900 0 0 1 1770 1862"/>
<path d="M1767 2044A1000 1000 0 0 1 1194 1213"/>
<path d="M1767 2044A1000 1000 0 0 1 1040 1082"/>
<path d="M1767 2044A1000 1000 0 0 1 873 1210"/>
</g>
</g>
<g id="nodes" class="n">
<g id="n-u1"><circle cx="873" cy="1210" r="88" fill="#3ccf4c"/></g>
<g id="n-u2"><circle cx="1453" cy="1055" r="62" fill="#14c08e"/></g>
<g id="n-u3"><circle cx="634" cy="942" r="44" fill="#8ed13c"/></g>
<g id="n-u4"><circle cx="1854" cy="782" r="42" fill="#18c48e"/></g>
<g id="n-u5"><circle cx="2159" cy="1066" r="41" fill="#15c37f"/></g>
<g id="n-u6"><circle cx="730" cy="1198" r="40" fill="#8fd734"/></g>
<g id="n-u7"><circle cx="904" cy="600" r="39" fill="#9ad52c"/></g>
<g id="n-u8"><circle cx="1655" cy="1128" r="39" fill="#14c093"/></g>
<g id="n-u9"><circle cx="1244" cy="1024" r="38" fill="#8ed63a"/></g>
<g id="n-u10"><circle cx="844" cy="1011" r="35" fill="#f2dc1a"/></g>
<g id="n-u11"><circle cx="1392" cy="937" r="32" fill="#bad82c"/></g>
<g id="n-u12"><circle cx="1785" cy="1275" r="32" fill="#17a8aa"/></g>
<g id="n-u13"><circle cx="1025" cy="677" r="30" fill="#16c07a"/></g>
<g id="n-u14"><circle cx="2113" cy="913" r="30" fill="#1cc47e"/></g>
<g id="n-u15"><circle cx="743" cy="1575" r="28" fill="#7fd03f"/></g>
<g id="n-u16"><circle cx="548" cy="577" r="27" fill="#f2d61a"/></g>
<g id="n-u17"><circle cx="641" cy="372" r="25" fill="#7ed14c"/></g>
<g id="n-u18"><circle cx="1546" cy="466" r="25" fill="#12c29a"/></g>
<g id="n-u19"><circle cx="900" cy="1605" r="24" fill="#8a80c8"/></g>
<g id="n-u20"><circle cx="979" cy="407" r="22" fill="#8fd23a"/></g>
<g id="n-u21"><circle cx="1433" cy="1391" r="22" fill="#1f8fba"/></g>
<g id="n-u22"><circle cx="916" cy="1845" r="22" fill="#4da3c8"/></g>
<g id="n-u23"><circle cx="1098" cy="1886" r="22" fill="#12b6a0"/></g>
<g id="n-u24"><circle cx="1120" cy="2041" r="22" fill="#9890d0"/></g>
<g id="n-u25"><circle cx="1098" cy="44" r="20" fill="#c8d818"/></g>
<g id="n-u26"><circle cx="1349" cy="749" r="20" fill="#c9d824"/></g>
<g id="n-u27"><circle cx="833" cy="1382" r="20" fill="#12aaa3"/></g>
<g id="n-u28"><circle cx="2147" cy="1382" r="20" fill="#b5dc3a"/></g>
<g id="n-u29"><circle cx="987" cy="822" r="18" fill="#1fc08e"/></g>
<g id="n-u30"><circle cx="1732" cy="745" r="18" fill="#1a9ab0"/></g>
<g id="n-u31"><circle cx="309" cy="1352" r="18" fill="#d8dd28"/></g>
<g id="n-u32"><circle cx="465" cy="1420" r="18" fill="#4ec97c"/></g>
<g id="n-u33"><circle cx="2636" cy="1238" r="18" fill="#8d86cc"/></g>
<g id="n-u34"><circle cx="2820" cy="1235" r="18" fill="#6f8dcc"/></g>
<g id="n-u35"><circle cx="1031" cy="1762" r="18" fill="#12b2a0"/></g>
<g id="n-u36"><circle cx="1278" cy="1902" r="18" fill="#6fd26a"/></g>
<g id="n-u37"><circle cx="1150" cy="398" r="17" fill="#3395ba"/></g>
<g id="n-u38"><circle cx="1883" cy="480" r="17" fill="#9a8fd6"/></g>
<g id="n-u39"><circle cx="1614" cy="989" r="17" fill="#c9dc2a"/></g>
<g id="n-u40"><circle cx="2876" cy="1187" r="17" fill="#8d86cc"/></g>
<g id="n-u41"><circle cx="1524" cy="1509" r="17" fill="#8a80c8"/></g>
<g id="n-u42"><circle cx="1560" cy="244" r="16" fill="#c9da26"/></g>
<g id="n-u43"><circle cx="2063" cy="279" r="16" fill="#2fcb80"/></g>
<g id="n-u44"><circle cx="1176" cy="773" r="16" fill="#12b898"/></g>
<g id="n-u45"><circle cx="1144" cy="206" r="15" fill="#8c86c6"/></g>

<g id="n-bim"><circle cx="1194" cy="1213" r="110" fill="#17c67e"/><text x="1194" y="1213" font-size="92" textLength="148" lengthAdjust="spacingAndGlyphs">bim</text></g>
<g id="n-framework"><circle cx="1040" cy="1082" r="72" fill="#1fc463"/><text x="1042" y="1082" font-size="66" textLength="351" lengthAdjust="spacingAndGlyphs">framework</text></g>
<g id="n-management"><circle cx="1549" cy="716" r="64" fill="#14b994"/><text x="1554" y="716" font-size="66" textLength="412" lengthAdjust="spacingAndGlyphs">management</text></g>
<g id="n-construction"><circle cx="1532" cy="1223" r="64" fill="#11ab9b"/><text x="1532" y="1223" font-size="64" textLength="388" lengthAdjust="spacingAndGlyphs">construction</text></g>
<g id="n-bim-modeling-1"><circle cx="1557" cy="880" r="62" fill="#15b596"/><text x="1551" y="880" font-size="64" textLength="963" lengthAdjust="spacingAndGlyphs">building information modeling</text></g>
<g id="n-bim-modeling-2"><circle cx="1111" cy="972" r="57" fill="#18bc8c"/><text x="1101" y="972" font-size="62" textLength="915" lengthAdjust="spacingAndGlyphs">building information modeling</text></g>
<g id="n-system"><circle cx="1651" cy="1327" r="57" fill="#0fae9f"/><text x="1650" y="1327" font-size="56" textLength="201" lengthAdjust="spacingAndGlyphs">system</text></g>
<g id="n-model"><circle cx="1894" cy="1088" r="54" fill="#12aaa3"/><text x="1897" y="1088" font-size="56" textLength="174" lengthAdjust="spacingAndGlyphs">model</text></g>
<g id="n-integration"><circle cx="733" cy="644" r="44" fill="#a2d52c"/><text x="728" y="644" font-size="52" textLength="294" lengthAdjust="spacingAndGlyphs">integration</text></g>
<g id="n-simulation"><circle cx="1801" cy="968" r="35" fill="#8a80c8"/><text x="1798" y="968" font-size="44" textLength="253" lengthAdjust="spacingAndGlyphs">simulation</text></g>
<g id="n-facilities-management"><circle cx="536" cy="1081" r="35" fill="#12b58f"/><text x="530" y="1081" font-size="46" textLength="539" lengthAdjust="spacingAndGlyphs">facilities management</text></g>
<g id="n-gis"><circle cx="1770" cy="1862" r="34" fill="#11b898"/><text x="1771" y="1862" font-size="46" textLength="67" lengthAdjust="spacingAndGlyphs">gis</text></g>
<g id="n-models"><circle cx="1420" cy="1869" r="34" fill="#0f9fac"/><text x="1420" y="1869" font-size="48" textLength="178" lengthAdjust="spacingAndGlyphs">models</text></g>
<g id="n-digital-twin"><circle cx="737" cy="199" r="33" fill="#f5df0e"/><text x="737" y="199" font-size="50" textLength="268" lengthAdjust="spacingAndGlyphs">digital twin</text></g>
<g id="n-support"><circle cx="1044" cy="1315" r="33" fill="#10b696"/><text x="1044" y="1315" font-size="44" textLength="187" lengthAdjust="spacingAndGlyphs">support</text></g>
<g id="n-implementation"><circle cx="845" cy="839" r="32" fill="#16b98a"/><text x="836" y="839" font-size="48" textLength="386" lengthAdjust="spacingAndGlyphs">implementation</text></g>
<g id="n-internet"><circle cx="1328" cy="263" r="30" fill="#f6dc10"/><text x="1330" y="263" font-size="46" textLength="179" lengthAdjust="spacingAndGlyphs">internet</text></g>
<g id="n-visualization"><circle cx="1066" cy="1549" r="30" fill="#14b98c"/><text x="1063" y="1549" font-size="46" textLength="305" lengthAdjust="spacingAndGlyphs">visualization</text></g>
<g id="n-facility-location"><circle cx="2706" cy="1180" r="30" fill="#8178c4"/><text x="2708" y="1180" font-size="46" textLength="351" lengthAdjust="spacingAndGlyphs">facility location</text></g>
<g id="n-transportation"><circle cx="2648" cy="1088" r="29" fill="#8c82d0"/><text x="2646" y="1088" font-size="44" textLength="329" lengthAdjust="spacingAndGlyphs">transportation</text></g>
<g id="n-systems"><circle cx="1692" cy="495" r="28" fill="#8a7fcf"/><text x="1690" y="495" font-size="44" textLength="181" lengthAdjust="spacingAndGlyphs">systems</text></g>
<g id="n-technology"><circle cx="1730" cy="1497" r="28" fill="#8b7fca"/><text x="1731" y="1497" font-size="44" textLength="253" lengthAdjust="spacingAndGlyphs">technology</text></g>
<g id="n-iot"><circle cx="810" cy="348" r="27" fill="#a9d62a"/><text x="811" y="348" font-size="46" textLength="59" lengthAdjust="spacingAndGlyphs">iot</text></g>
<g id="n-energy"><circle cx="1481" cy="602" r="27" fill="#3c7fae"/><text x="1480" y="602" font-size="42" textLength="153" lengthAdjust="spacingAndGlyphs">energy</text></g>
<g id="n-algorithm"><circle cx="2413" cy="1492" r="26" fill="#0fba9b"/><text x="2416" y="1492" font-size="44" textLength="217" lengthAdjust="spacingAndGlyphs">algorithm</text></g>
<g id="n-quality"><circle cx="1288" cy="1701" r="26" fill="#6c7cc0"/><text x="1291" y="1701" font-size="42" textLength="148" lengthAdjust="spacingAndGlyphs">quality</text></g>
<g id="n-safety"><circle cx="1149" cy="595" r="25" fill="#18b58c"/><text x="1145" y="595" font-size="42" textLength="131" lengthAdjust="spacingAndGlyphs">safety</text></g>
<g id="n-architecture"><circle cx="1224" cy="1395" r="25" fill="#4e86bb"/><text x="1225" y="1395" font-size="42" textLength="271" lengthAdjust="spacingAndGlyphs">architecture</text></g>
<g id="n-life-cycle"><circle cx="506" cy="925" r="24" fill="#15b69a"/><text x="506" y="925" font-size="40" textLength="205" lengthAdjust="spacingAndGlyphs">life-cycle</text></g>
<g id="n-fm"><circle cx="218" cy="986" r="24" fill="#10b692"/><text x="217" y="986" font-size="40" textLength="53" lengthAdjust="spacingAndGlyphs">fm</text></g>
<g id="n-impact"><circle cx="2040" cy="666" r="24" fill="#18a6aa"/><text x="2040" y="666" font-size="42" textLength="154" lengthAdjust="spacingAndGlyphs">impact</text></g>
<g id="n-requirements"><circle cx="615" cy="1377" r="24" fill="#1fc28c"/><text x="615" y="1377" font-size="42" textLength="308" lengthAdjust="spacingAndGlyphs">requirements</text></g>
<g id="n-selection"><circle cx="2282" cy="1367" r="24" fill="#1ba6b6"/><text x="2283" y="1367" font-size="42" textLength="196" lengthAdjust="spacingAndGlyphs">selection</text></g>
<g id="n-ontology"><circle cx="1978" cy="1536" r="24" fill="#3b8db4"/><text x="1978" y="1536" font-size="44" textLength="198" lengthAdjust="spacingAndGlyphs">ontology</text></g>
<g id="n-ifc"><circle cx="1280" cy="1541" r="24" fill="#16a7a0"/><text x="1282" y="1541" font-size="44" textLength="53" lengthAdjust="spacingAndGlyphs">ifc</text></g>
<g id="n-industry-foundation-classes"><circle cx="648" cy="1781" r="24" fill="#5c8fc6"/><text x="648" y="1781" font-size="46" textLength="674" lengthAdjust="spacingAndGlyphs">industry foundation classes (i</text></g>
<g id="n-point-cloud"><circle cx="891" cy="2053" r="24" fill="#8a82c8"/><text x="892" y="2053" font-size="42" textLength="245" lengthAdjust="spacingAndGlyphs">point cloud</text></g>
<g id="n-barriers"><circle cx="1801" cy="592" r="20" fill="#6dd14a"/><text x="1805" y="592" font-size="40" textLength="167" lengthAdjust="spacingAndGlyphs">barriers</text></g>
<g id="n-life-cycle-assessment"><circle cx="2280" cy="514" r="20" fill="#10c29a"/><text x="2286" y="514" font-size="40" textLength="466" lengthAdjust="spacingAndGlyphs">life-cycle assessment</text></g>
<g id="n-fault-detection"><circle cx="378" cy="1158" r="20" fill="#a8d82c"/><text x="383" y="1158" font-size="42" textLength="326" lengthAdjust="spacingAndGlyphs">fault-detection</text></g>
<g id="n-environment"><circle cx="1615" cy="1634" r="20" fill="#9c93d4"/><text x="1622" y="1634" font-size="40" textLength="275" lengthAdjust="spacingAndGlyphs">environment</text></g>
<g id="n-operation"><circle cx="457" cy="368" r="18" fill="#f3dc12"/><text x="458" y="368" font-size="42" textLength="211" lengthAdjust="spacingAndGlyphs">operation</text></g>
<g id="n-behavior"><circle cx="1321" cy="433" r="18" fill="#17a89c"/><text x="1324" y="433" font-size="40" textLength="187" lengthAdjust="spacingAndGlyphs">behavior</text></g>
<g id="n-existing-buildings"><circle cx="574" cy="1582" r="18" fill="#12aaa0"/><text x="581" y="1582" font-size="40" textLength="358" lengthAdjust="spacingAndGlyphs">existing buildings</text></g>
<g id="n-indoor"><circle cx="1358" cy="2075" r="18" fill="#12a8ae"/><text x="1363" y="2075" font-size="42" textLength="143" lengthAdjust="spacingAndGlyphs">indoor</text></g>
<g id="n-generation"><circle cx="1557" cy="1791" r="17" fill="#d6dc22"/><text x="1561" y="1791" font-size="40" textLength="223" lengthAdjust="spacingAndGlyphs">generation</text></g>
<g id="n-semantic-web"><circle cx="1988" cy="1820" r="17" fill="#12a7a6"/><text x="1991" y="1820" font-size="40" textLength="303" lengthAdjust="spacingAndGlyphs">semantic web</text></g>
<g id="n-internet-of-things"><circle cx="923" cy="95" r="17" fill="#f2e011"/><text x="926" y="95" font-size="40" textLength="379" lengthAdjust="spacingAndGlyphs">internet of things</text></g>
<g id="n-inspection"><circle cx="1444" cy="138" r="17" fill="#f1de12"/><text x="1445" y="138" font-size="40" textLength="212" lengthAdjust="spacingAndGlyphs">inspection</text></g>
<g id="n-facility-management-fm"><circle cx="295" cy="845" r="17" fill="#c2d82c"/><text x="303" y="845" font-size="42" textLength="546" lengthAdjust="spacingAndGlyphs">facility management (fm)</text></g>
<g id="n-location"><circle cx="2723" cy="1342" r="17" fill="#948ed4"/><text x="2725" y="1342" font-size="40" textLength="164" lengthAdjust="spacingAndGlyphs">location</text></g>
<g id="n-things"><circle cx="1258" cy="95" r="16" fill="#f4e014"/><text x="1263" y="95" font-size="40" textLength="125" lengthAdjust="spacingAndGlyphs">things</text></g>
<g id="n-embodied-energy"><circle cx="2233" cy="324" r="16" fill="#5a9ec6"/><text x="2233" y="324" font-size="40" textLength="361" lengthAdjust="spacingAndGlyphs">embodied energy</text></g>
<g id="n-supply-chain"><circle cx="2691" cy="845" r="16" fill="#6e90cc"/><text x="2691" y="845" font-size="40" textLength="256" lengthAdjust="spacingAndGlyphs">supply chain</text></g>
<g id="n-systematic-review"><circle cx="2403" cy="914" r="16" fill="#1e98b0"/><text x="2404" y="914" font-size="40" textLength="363" lengthAdjust="spacingAndGlyphs">systematic review</text></g>
<g id="n-genetic-algorithm"><circle cx="2280" cy="986" r="16" fill="#2a9ec0"/><text x="2283" y="986" font-size="40" textLength="364" lengthAdjust="spacingAndGlyphs">genetic algorithm</text></g>
<g id="n-data-integration"><circle cx="1767" cy="2044" r="16" fill="#f2e01a"/><text x="1778" y="2044" font-size="40" textLength="331" lengthAdjust="spacingAndGlyphs">data integration</text></g>
<g id="n-scan-to-bim"><circle cx="1008" cy="2124" r="16" fill="#a6d83a"/><text x="1009" y="2124" font-size="38" textLength="253" lengthAdjust="spacingAndGlyphs">scan-to-bim</text></g>
<g id="n-prefabrication"><circle cx="1862" cy="236" r="15" fill="#3ec77e"/><text x="1868" y="236" font-size="40" textLength="292" lengthAdjust="spacingAndGlyphs">prefabrication</text></g>
<g id="n-case-study"><circle cx="266" cy="573" r="15" fill="#9ed52e"/><text x="269" y="573" font-size="38" textLength="212" lengthAdjust="spacingAndGlyphs">case study</text></g>
<g id="n-energy-performance"><circle cx="620" cy="739" r="15" fill="#f0dc18"/><text x="628" y="739" font-size="40" textLength="412" lengthAdjust="spacingAndGlyphs">energy performance</text></g>
<g id="n-network"><circle cx="1978" cy="1198" r="15" fill="#3d8ab8"/><text x="1978" y="1198" font-size="38" textLength="166" lengthAdjust="spacingAndGlyphs">network</text></g>
<g id="n-consumption"><circle cx="2123" cy="751" r="14" fill="#16a8b6"/><text x="2128" y="751" font-size="40" textLength="271" lengthAdjust="spacingAndGlyphs">consumption</text></g>
<g id="n-cost"><circle cx="2578" cy="652" r="14" fill="#9d95d6"/><text x="2580" y="652" font-size="38" textLength="83" lengthAdjust="spacingAndGlyphs">cost</text></g>
<g id="n-deep-learning"><circle cx="789" cy="1875" r="14" fill="#f0e018"/><text x="794" y="1875" font-size="40" textLength="283" lengthAdjust="spacingAndGlyphs">deep learning</text></g>
</g>
<g id="legend">
<rect x="1880" y="2103" width="1238" height="186" rx="42" fill="#fff" stroke="#d9d9d9" stroke-width="3"/>
<rect x="1919" y="2133" width="1158" height="64" fill="url(#grad)" stroke="#8a8a8a" stroke-width="5"/>
<g stroke="#7a7a7a" stroke-width="4">
<line x1="1976" y1="2177" x2="1976" y2="2221"/>
<line x1="2324" y1="2177" x2="2324" y2="2221"/>
<line x1="2669" y1="2177" x2="2669" y2="2221"/>
<line x1="3018" y1="2177" x2="3018" y2="2221"/>
</g>
<text class="lg" x="1976" y="2267">2018</text>
<text class="lg" x="2324" y="2267">2019</text>
<text class="lg" x="2669" y="2267">2020</text>
<text class="lg" x="3018" y="2267">2021</text>
</g>
</svg>
